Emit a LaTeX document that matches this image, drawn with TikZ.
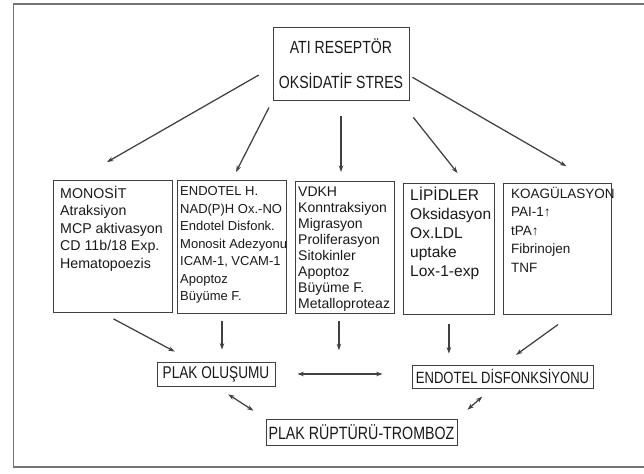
\documentclass[tikz,border=0pt]{standalone}
\usepackage{fontspec}
\setmainfont{Liberation Sans}
\newfontfamily\narrowsf[FakeStretch=0.8]{Liberation Sans}
\usetikzlibrary{arrows.meta,calc}
\definecolor{ink}{gray}{0.1}
\definecolor{edge}{gray}{0.25}
\definecolor{framec}{gray}{0.45}
\begin{document}
\begin{tikzpicture}[x=1pt,y=-1pt,
		box/.style={draw=edge,line width=0.8pt,inner sep=0pt,text=ink},
		list/.style={anchor=north west,inner sep=0pt,align=left,text=ink},
		arr/.style={draw=edge,line width=1.25pt,-{Stealth[length=6.5pt,width=4.5pt]}},
		dbl/.style={draw=edge,line width=1.25pt,{Stealth[length=6.5pt,width=4.5pt]}-{Stealth[length=6.5pt,width=4.5pt]}}]
		\useasboundingbox (0,0) rectangle (644,473);
		\draw[framec,line width=1.4pt] (13.5,4) rectangle (660,467);
		\node[box,font=\narrowsf\fontsize{17.6}{35}\selectfont,align=center,minimum width=136pt,minimum height=73pt](top) at (341,63.5){ATI RESEPTÖR\\OKSİDATİF STRES};
		\node[box,minimum width=119pt,minimum height=132pt,anchor=north west](mon) at (53,180){};
		\node[box,minimum width=109pt,minimum height=133pt,anchor=north west](endo) at (177,180){};
		\node[box,minimum width=99pt,minimum height=132pt,anchor=north west](vdk) at (295,181){};
		\node[box,minimum width=91pt,minimum height=131pt,anchor=north west](lip) at (403,183){};
		\node[box,minimum width=108pt,minimum height=131pt,anchor=north west](koa) at (503,183){};
		\node[list,font=\fontsize{14.2}{17.5}\selectfont](monT) at (60,184){\rule{0pt}{14pt}MONOSİT\\Atraksiyon\\MCP aktivasyon\\CD 11b/18 Exp.\\Hematopoezis};
		\node[list,font=\fontsize{13}{17.5}\selectfont](endoT) at (180,181.7){\rule{0pt}{14pt}ENDOTEL H.\\NAD(P)H Ox.-NO\\Endotel Disfonk.\\Monosit Adezyonu\\ICAM-1, VCAM-1\\Apoptoz\\Büyüme F.};
		\node[list,font=\fontsize{14}{16}\selectfont](vdkT) at (298,182){\rule{0pt}{14pt}VDKH\\Konntraksiyon\\Migrasyon\\Proliferasyon\\Sitokinler\\Apoptoz\\Büyüme F.\\Metalloproteaz};
		\node[list,font=\fontsize{15.5}{19}\selectfont](lipT) at (410,186.5){\rule{0pt}{14pt}LİPİDLER\\Oksidasyon\\Ox.LDL\\uptake\\Lox-1-exp};
		\node[list,font=\fontsize{13.5}{18.5}\selectfont](koaT) at (511,183.8){\rule{0pt}{14pt}KOAGÜLASYON\\PAI-1↑\\tPA↑\\Fibrinojen\\TNF};
		\node[box,font=\narrowsf\fontsize{17}{20}\selectfont,minimum width=118pt,minimum height=24pt](plak) at (216,374){PLAK OLUŞUMU};
		\node[box,font=\narrowsf\fontsize{16.3}{20}\selectfont,minimum width=181pt,minimum height=23pt](disf) at (502.5,376.5){ENDOTEL DİSFONKSİYONU};
		\node[box,font=\narrowsf\fontsize{17.8}{20}\selectfont,minimum width=191pt,minimum height=26pt](rup) at (361.5,432){PLAK RÜPTÜRÜ-TROMBOZ};
		\coordinate (e1) at ($(endo.south west)!0.41!(endo.south east)$);
		\coordinate (v1) at ($(vdk.south west)!0.44!(vdk.south east)$);
		\coordinate (mid) at ($(plak.east)!0.5!(disf.west)$);
		\draw[arr,shorten <=16pt,shorten >=36pt] (top.183) -- ($(mon.north west)!0.19!(mon.north east)$);
		\draw[arr,shorten <=8pt,shorten >=9pt] (top.south west) -- (endo.north);
		\draw[arr,shorten <=16pt,shorten >=9pt] (top.south) -- (top.south |- vdk.north);
		\draw[arr,shorten <=21.6pt,shorten >=12.7pt] ($(top.south west)!0.93!(top.south east)$) -- ($(lip.north west)!0.68!(lip.north east)$);
		\draw[arr,shorten <=3.5pt,shorten >=33.6pt] (top.-10) -- ($(koa.north west)!0.85!(koa.north east)$);
		\draw[arr,shorten <=12.8pt,shorten >=21.2pt] ($(mon.south west)!0.41!(mon.south east)$) -- ($(plak.north west)!0.31!(plak.north east)$);
		\draw[arr,shorten <=7pt,shorten >=12pt] (e1) -- (e1 |- plak.north);
		\draw[arr,shorten <=7pt,shorten >=25pt] (v1) -- (v1 |- mid);
		\draw[dbl,shorten <=22pt,shorten >=29pt] (plak.east) -- (plak.east -| disf.west);
		\draw[arr,shorten <=9pt,shorten >=11pt] (lip.south) -- (lip.south |- disf.north);
		\draw[arr,shorten <=16.7pt,shorten >=16.7pt] ($(koa.south west)!0.63!(koa.south east)$) -- (disf.north);
		\draw[dbl,shorten <=14.5pt,shorten >=14.5pt] (plak.south) -- (rup.north west);
		\draw[dbl,shorten <=13.4pt,shorten >=12.5pt] (rup.north east) -- ($(disf.south west)!0.44!(disf.south east)$);
	\end{tikzpicture}
\end{document}
